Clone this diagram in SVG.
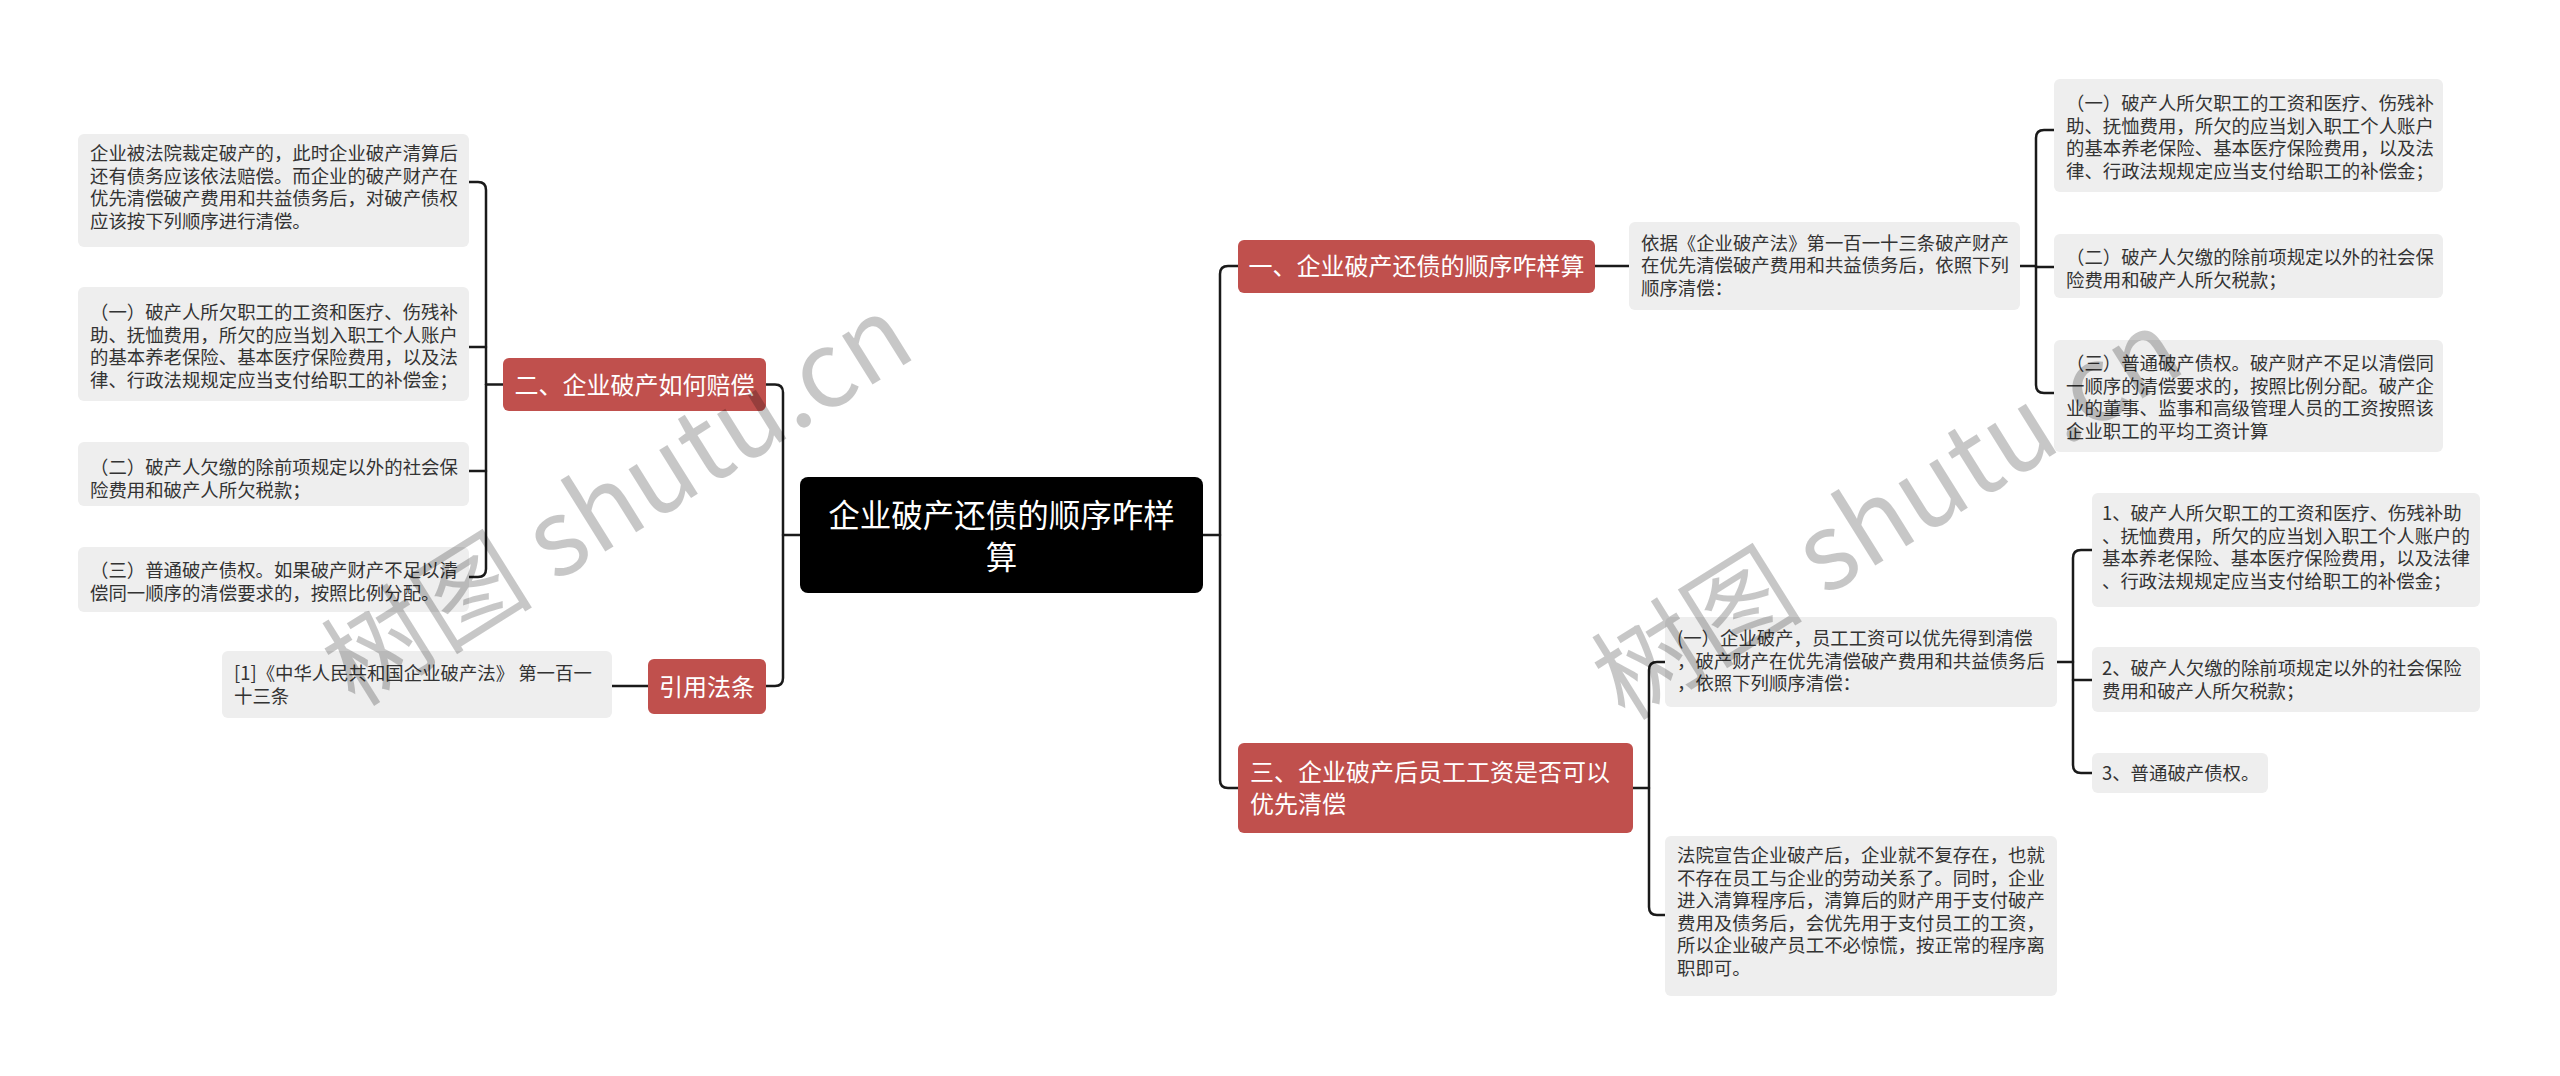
<svg xmlns="http://www.w3.org/2000/svg" width="2560" height="1076" viewBox="0 0 2560 1076">
<style>
.bg{fill:#ffffff}
.box{fill:#EEEEEE}
.red{fill:#C0504D}
.root{fill:#000000}
.t{font-family:"Noto Sans CJK SC","Noto Sans",sans-serif;font-size:18.4px;fill:#333333}
.tw{font-family:"Noto Sans CJK SC","Noto Sans",sans-serif;font-size:24px;fill:#ffffff}
.tr{font-family:"Noto Sans CJK SC","Noto Sans",sans-serif;font-size:31.5px;fill:#ffffff}
.link{fill:none;stroke:#1a1a1a;stroke-width:2.5;stroke-linecap:round}
.wm{font-family:"Noto Sans CJK SC","Noto Sans",sans-serif;font-size:106px;fill:#000000;fill-opacity:0.22}
</style>
<rect class="bg" x="0" y="0" width="2560" height="1076"/>

<g id="connectors">
  <path class="link" d="M800 535 H783"/>
  <path class="link" d="M766 384.5 H775 Q783 384.5 783 392.5 V678 Q783 686 775 686 H766"/>
  <path class="link" d="M503 384.5 H486"/>
  <path class="link" d="M469 182 H478 Q486 182 486 190 V569 Q486 577 478 577 H469"/>
  <path class="link" d="M469 347 H486"/>
  <path class="link" d="M469 471 H486"/>
  <path class="link" d="M612 686 H648"/>
  <path class="link" d="M1203 535 H1220"/>
  <path class="link" d="M1238 266 H1228 Q1220 266 1220 274 V780 Q1220 788 1228 788 H1238"/>
  <path class="link" d="M1595 266 H1629"/>
  <path class="link" d="M2020 266 H2036"/>
  <path class="link" d="M2054 130 H2044 Q2036 130 2036 138 V385 Q2036 393 2044 393 H2054"/>
  <path class="link" d="M2036 267 H2054"/>
  <path class="link" d="M1633 788 H1649"/>
  <path class="link" d="M1665 662 H1657 Q1649 662 1649 670 V907 Q1649 915 1657 915 H1665"/>
  <path class="link" d="M2057 662 H2073"/>
  <path class="link" d="M2092 550 H2081 Q2073 550 2073 558 V765 Q2073 773 2081 773 H2092"/>
  <path class="link" d="M2073 680 H2092"/>
</g>

<g id="root">
  <rect class="root" x="800" y="477" width="403" height="116" rx="8"/>
  <text class="tr" text-anchor="middle"><tspan x="1001.5" y="526.5">企业破产还债的顺序咋样</tspan><tspan x="1001.5" y="568.5">算</tspan></text>
</g>

<g id="n-left-2">
  <rect class="red" x="503" y="358" width="263" height="53" rx="6"/>
  <text class="tw" x="634.5" y="393.5" text-anchor="middle">二、企业破产如何赔偿</text>
</g>
<g id="n-l0">
  <rect class="box" x="78" y="134" width="391" height="113" rx="6"/>
  <text class="t"><tspan x="90" y="160">企业被法院裁定破产的，此时企业破产清算后</tspan><tspan x="90" y="182.5">还有债务应该依法赔偿。而企业的破产财产在</tspan><tspan x="90" y="205">优先清偿破产费用和共益债务后，对破产债权</tspan><tspan x="90" y="227.5">应该按下列顺序进行清偿。</tspan></text>
</g>
<g id="n-l1">
  <rect class="box" x="78" y="287" width="391" height="114" rx="6"/>
  <text class="t"><tspan x="90" y="319">（一）破产人所欠职工的工资和医疗、伤残补</tspan><tspan x="90" y="341.5">助、抚恤费用，所欠的应当划入职工个人账户</tspan><tspan x="90" y="364">的基本养老保险、基本医疗保险费用，以及法</tspan><tspan x="90" y="386.5">律、行政法规规定应当支付给职工的补偿金；</tspan></text>
</g>
<g id="n-l2">
  <rect class="box" x="78" y="442" width="391" height="64" rx="6"/>
  <text class="t"><tspan x="90" y="474">（二）破产人欠缴的除前项规定以外的社会保</tspan><tspan x="90" y="496.5">险费用和破产人所欠税款；</tspan></text>
</g>
<g id="n-l3">
  <rect class="box" x="78" y="547" width="391" height="65" rx="6"/>
  <text class="t"><tspan x="90" y="577">（三）普通破产债权。如果破产财产不足以清</tspan><tspan x="90" y="599.5">偿同一顺序的清偿要求的，按照比例分配。</tspan></text>
</g>

<g id="n-cite">
  <rect class="red" x="648" y="659" width="118" height="55" rx="6"/>
  <text class="tw" x="707" y="695.5" text-anchor="middle">引用法条</text>
</g>
<g id="n-cite-1">
  <rect class="box" x="222" y="651" width="390" height="67" rx="6"/>
  <text class="t"><tspan x="234" y="680">[1]《中华人民共和国企业破产法》 第一百一</tspan><tspan x="234" y="702.5">十三条</tspan></text>
</g>

<g id="n-b1">
  <rect class="red" x="1238" y="240" width="357" height="53" rx="6"/>
  <text class="tw" x="1416.5" y="275" text-anchor="middle">一、企业破产还债的顺序咋样算</text>
</g>
<g id="n-b1-a">
  <rect class="box" x="1629" y="222" width="391" height="88" rx="6"/>
  <text class="t"><tspan x="1641" y="249.5">依据《企业破产法》第一百一十三条破产财产</tspan><tspan x="1641" y="272">在优先清偿破产费用和共益债务后，依照下列</tspan><tspan x="1641" y="294.5">顺序清偿：</tspan></text>
</g>
<g id="n-r1a">
  <rect class="box" x="2054" y="79" width="389" height="113" rx="6"/>
  <text class="t"><tspan x="2066" y="110">（一）破产人所欠职工的工资和医疗、伤残补</tspan><tspan x="2066" y="132.5">助、抚恤费用，所欠的应当划入职工个人账户</tspan><tspan x="2066" y="155">的基本养老保险、基本医疗保险费用，以及法</tspan><tspan x="2066" y="177.5">律、行政法规规定应当支付给职工的补偿金；</tspan></text>
</g>
<g id="n-r1b">
  <rect class="box" x="2054" y="234" width="389" height="64" rx="6"/>
  <text class="t"><tspan x="2066" y="264">（二）破产人欠缴的除前项规定以外的社会保</tspan><tspan x="2066" y="286.5">险费用和破产人所欠税款；</tspan></text>
</g>
<g id="n-r1c">
  <rect class="box" x="2054" y="340" width="389" height="112" rx="6"/>
  <text class="t"><tspan x="2066" y="370">（三）普通破产债权。破产财产不足以清偿同</tspan><tspan x="2066" y="392.5">一顺序的清偿要求的，按照比例分配。破产企</tspan><tspan x="2066" y="415">业的董事、监事和高级管理人员的工资按照该</tspan><tspan x="2066" y="437.5">企业职工的平均工资计算</tspan></text>
</g>

<g id="n-b3">
  <rect class="red" x="1238" y="743" width="395" height="90" rx="6"/>
  <text class="tw"><tspan x="1250" y="781">三、企业破产后员工工资是否可以</tspan><tspan x="1250" y="813">优先清偿</tspan></text>
</g>
<g id="n-r3a">
  <rect class="box" x="1665" y="617" width="392" height="90" rx="6"/>
  <text class="t"><tspan x="1677" y="645">(一）企业破产，员工工资可以优先得到清偿</tspan><tspan x="1677" y="667.5">，破产财产在优先清偿破产费用和共益债务后</tspan><tspan x="1677" y="690">，依照下列顺序清偿：</tspan></text>
</g>
<g id="n-r3a1">
  <rect class="box" x="2092" y="493" width="388" height="114" rx="6"/>
  <text class="t"><tspan x="2102" y="520">1、破产人所欠职工的工资和医疗、伤残补助</tspan><tspan x="2102" y="542.5">、抚恤费用，所欠的应当划入职工个人账户的</tspan><tspan x="2102" y="565">基本养老保险、基本医疗保险费用，以及法律</tspan><tspan x="2102" y="587.5">、行政法规规定应当支付给职工的补偿金；</tspan></text>
</g>
<g id="n-r3a2">
  <rect class="box" x="2092" y="647" width="388" height="65" rx="6"/>
  <text class="t"><tspan x="2102" y="675">2、破产人欠缴的除前项规定以外的社会保险</tspan><tspan x="2102" y="697.5">费用和破产人所欠税款；</tspan></text>
</g>
<g id="n-r3a3">
  <rect class="box" x="2092" y="753" width="176" height="40" rx="6"/>
  <text class="t" x="2102" y="780">3、普通破产债权。</text>
</g>
<g id="n-r3b">
  <rect class="box" x="1665" y="836" width="392" height="160" rx="6"/>
  <text class="t"><tspan x="1677" y="862">法院宣告企业破产后，企业就不复存在，也就</tspan><tspan x="1677" y="884.5">不存在员工与企业的劳动关系了。同时，企业</tspan><tspan x="1677" y="907">进入清算程序后，清算后的财产用于支付破产</tspan><tspan x="1677" y="929.5">费用及债务后，会优先用于支付员工的工资，</tspan><tspan x="1677" y="952">所以企业破产员工不必惊慌，按正常的程序离</tspan><tspan x="1677" y="974.5">职即可。</tspan></text>
</g>

<g id="watermark">
  <text class="wm" x="355" y="708" transform="rotate(-32 355 708)">树图 shutu.cn</text>
  <text class="wm" x="1625" y="722" transform="rotate(-32 1625 722)">树图 shutu.cn</text>
</g>
</svg>
